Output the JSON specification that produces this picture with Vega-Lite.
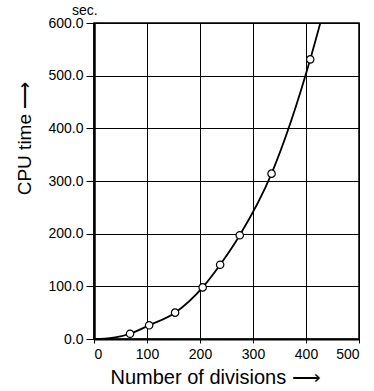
{
  "$schema": "https://vega.github.io/schema/vega-lite/v6.json",
  "autosize": {"type": "none"},
  "padding": {"left": 94, "top": 23, "right": 15, "bottom": 52},
  "width": 265,
  "height": 316,
  "background": "white",
  "title": {"text": "sec.", "anchor": "start", "frame": "group", "dx": -22, "dy": 16, "offset": 3, "baseline": "alphabetic", "fontSize": 14, "fontWeight": "normal", "font": "Liberation Sans", "color": "black"},
  "config": {
    "view": {"stroke": "black", "strokeWidth": 1.5},
    "axis": {"labelFont": "Liberation Sans", "titleFont": "Liberation Sans", "labelColor": "black", "titleColor": "black", "gridColor": "black", "gridOpacity": 1, "gridWidth": 1, "tickColor": "black", "domainColor": "black", "titleFontWeight": "normal"}
  },
  "datasets": {
    "pts": [
      {"n": 68, "t": 10},
      {"n": 104, "t": 26},
      {"n": 153, "t": 50},
      {"n": 205, "t": 98},
      {"n": 238, "t": 141},
      {"n": 275, "t": 197},
      {"n": 335, "t": 314},
      {"n": 408, "t": 531}
    ],
    "curve": [
      {"n": 0, "t": 0},
      {"n": 20, "t": 0.6},
      {"n": 40, "t": 3},
      {"n": 68, "t": 10},
      {"n": 104, "t": 26},
      {"n": 153, "t": 50},
      {"n": 205, "t": 98},
      {"n": 238, "t": 141},
      {"n": 275, "t": 197},
      {"n": 335, "t": 314},
      {"n": 408, "t": 531},
      {"n": 427, "t": 600}
    ]
  },
  "layer": [
    {
      "data": {"name": "curve"},
      "mark": {"type": "line", "color": "black", "strokeWidth": 1.8, "interpolate": "monotone", "clip": true},
      "encoding": {
        "x": {"field": "n", "type": "quantitative", "scale": {"domain": [0, 500], "nice": false},
          "axis": {"values": [0, 100, 200, 300, 400, 500], "title": "Number of divisions ⟶", "titleFontSize": 20, "titleX": 16, "titleAlign": "left", "titleY": 44, "titleBaseline": "alphabetic", "labelFontSize": 14, "tickSize": 4, "labelPadding": 4, "domainWidth": 2.2, "grid": true}},
        "y": {"field": "t", "type": "quantitative", "scale": {"domain": [0, 600], "nice": false},
          "axis": {"values": [0, 100, 200, 300, 400, 500, 600], "format": ".1f", "title": "CPU time  ⟶", "titleFontSize": 19, "titleAngle": -90, "titleX": -64, "titleY": 115, "titleAlign": "center", "titleBaseline": "alphabetic", "labelFontSize": 14, "tickSize": 8, "labelPadding": 3, "domainWidth": 2.5, "grid": true}}
      }
    },
    {
      "data": {"name": "pts"},
      "mark": {"type": "point", "shape": "circle", "filled": true, "fill": "white", "stroke": "black", "strokeWidth": 1.2, "size": 55, "opacity": 1},
      "encoding": {
        "x": {"field": "n", "type": "quantitative"},
        "y": {"field": "t", "type": "quantitative"}
      }
    }
  ]
}
